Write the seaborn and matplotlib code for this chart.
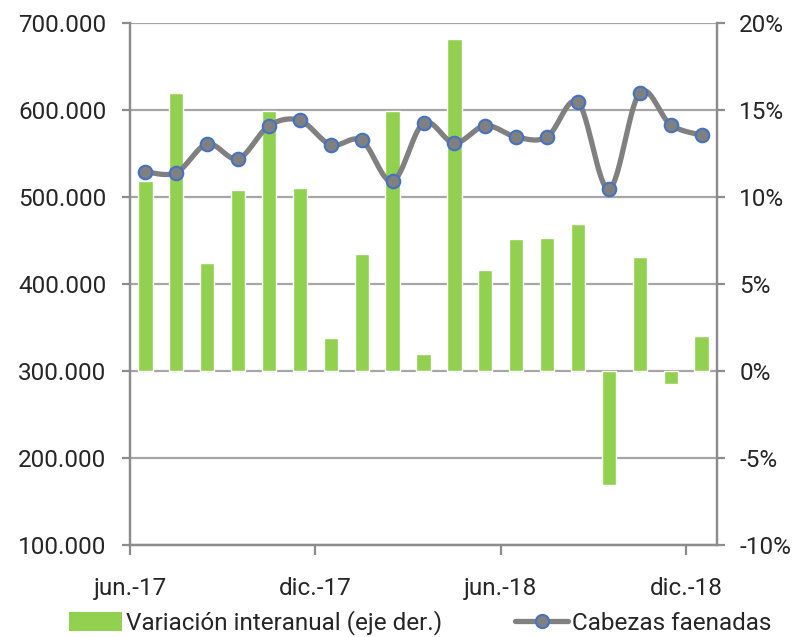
import numpy as np
import pandas as pd
import matplotlib
matplotlib.use("Agg")
import matplotlib.pyplot as plt
from matplotlib.patches import Patch
from matplotlib.lines import Line2D
from matplotlib.ticker import FuncFormatter
import seaborn as sns

# ---- data ----
months = ["jun.-17", "jul.-17", "ago.-17", "sep.-17", "oct.-17", "nov.-17", "dic.-17",
          "ene.-18", "feb.-18", "mar.-18", "abr.-18", "may.-18", "jun.-18", "jul.-18",
          "ago.-18", "sep.-18", "oct.-18", "nov.-18", "dic.-18"]
cabezas = [529000, 528000, 561000, 544000, 582000, 588000, 560000, 565000, 518000, 585000,
           562000, 582000, 569000, 569000, 609000, 509000, 620000, 583000, 571000]
variacion = [10.9, 16.0, 6.2, 10.4, 14.95, 10.5, 1.9, 6.7, 14.95, 1.0,
             19.1, 5.8, 7.6, 7.65, 8.45, -6.55, 6.55, -0.75, 2.0]
xtick_labels = ["jun.-17", "dic.-17", "jun.-18", "dic.-18"]
left_ticks = [100000, 200000, 300000, 400000, 500000, 600000, 700000]
right_ticks = [-10, -5, 0, 5, 10, 15, 20]
legend_labels = ["Variación interanual (eje der.)", "Cabezas faenadas"]

GREEN = "#92D050"
GRAY_LINE = "#808080"
BLUE_EDGE = "#4472C4"
AXIS_GRAY = "#8C8C8C"
GRID_GRAY = "#A6A6A6"

sns.set_style("white")
plt.rcParams["font.family"] = ["Roboto", "DejaVu Sans"]
FS = 17.5

fig = plt.figure(figsize=(8.05, 6.37), dpi=100)
ax = fig.add_axes([130/805, 1-545/637, (717-130)/805, (545-23)/637])
ax2 = ax.twinx()

idx = np.arange(len(months))
df = pd.DataFrame({"idx": idx, "month": months, "cab": cabezas, "var": variacion})

# bars on right axis
sns.barplot(data=df, x="idx", y="var", native_scale=True, color=GREEN, saturation=1,
            width=0.46, ax=ax2, zorder=2)
ax2.set_ylim(-10, 20)
ax2.set_yticks(right_ticks)
ax2.yaxis.set_major_formatter(FuncFormatter(lambda v, p: f"{int(v)}%"))
ax2.yaxis.grid(True, color=GRID_GRAY, lw=1.6)
ax2.set_axisbelow(True)
ax2.set_ylabel("")
ax2.set_xlabel("")

# smooth line (Bezier, as Excel's smoothed line) on left axis
P = np.column_stack([idx.astype(float), np.array(cabezas, dtype=float)])
Pext = np.vstack([P[0], P, P[-1]])
xs, ys = [], []
t = np.linspace(0, 1, 30)
for i in range(len(P) - 1):
    p0, p1, p2, p3 = Pext[i], Pext[i+1], Pext[i+2], Pext[i+3]
    c1 = p1 + (p2 - p0) / 6
    c2 = p2 - (p3 - p1) / 6
    seg = ((1-t)**3)[:, None]*p1 + (3*(1-t)**2*t)[:, None]*c1 + (3*(1-t)*t**2)[:, None]*c2 + (t**3)[:, None]*p2
    xs.extend(seg[:, 0]); ys.extend(seg[:, 1])
sns.lineplot(x=xs, y=ys, sort=False, estimator=None, color=GRAY_LINE, lw=3.8, ax=ax, zorder=3)
sns.scatterplot(data=df, x="idx", y="cab", s=95, color=GRAY_LINE, edgecolor=BLUE_EDGE,
                linewidth=1.5, ax=ax, zorder=4)

ax.set_zorder(ax2.get_zorder() + 1)
ax.patch.set_visible(False)
ax.set_ylim(100000, 700000)
ax.set_yticks(left_ticks)
ax.yaxis.set_major_formatter(FuncFormatter(lambda v, p: f"{int(v):,}".replace(",", ".")))
ax.set_xlim(-0.5, 18.5)
ax.set_xticks([-0.5, 5.5, 11.5, 17.5])
ax.set_xticklabels(xtick_labels)
ax.set_xlabel("")
ax.set_ylabel("")

for a in (ax, ax2):
    for s in a.spines.values():
        s.set_color(AXIS_GRAY)
        s.set_linewidth(1.6)
    a.spines["top"].set_visible(False)
ax.tick_params(axis="y", direction="out", length=6, width=1.6, color=AXIS_GRAY,
               labelsize=FS, pad=11, left=True)
ax.tick_params(axis="x", direction="out", length=7, width=1.6, color=AXIS_GRAY,
               labelsize=FS, pad=16, bottom=True)
ax2.tick_params(axis="y", direction="out", length=6, width=1.6, color=AXIS_GRAY,
                labelsize=FS, pad=10, right=True)

handles = [Patch(facecolor=GREEN, edgecolor="none"),
           Line2D([0], [0], color=GRAY_LINE, lw=3.8, marker="o", markersize=9.5,
                  markerfacecolor=GRAY_LINE, markeredgecolor=BLUE_EDGE, markeredgewidth=1.5)]
fig.legend(handles, legend_labels, loc="center", bbox_to_anchor=(420/805, 1-623/637),
           ncol=2, frameon=False, fontsize=FS, handlelength=2.2, handletextpad=0.15,
           columnspacing=3.0, handleheight=0.8)

fig.savefig("out.png", dpi=100)
